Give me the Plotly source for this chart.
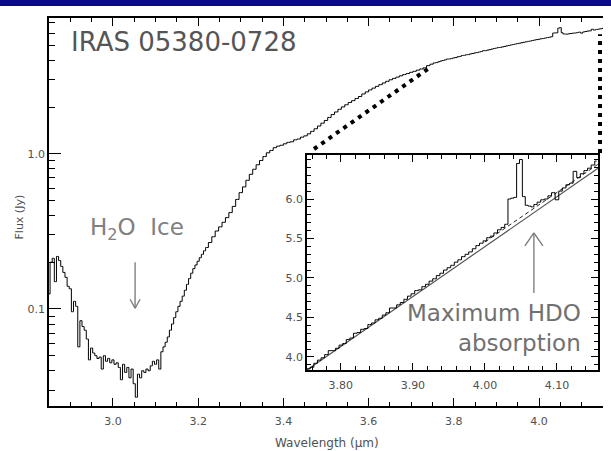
import numpy as np
import plotly.graph_objects as go

# ---------------- data ----------------
wavelength = [
    2.850, 2.855, 2.860, 2.865, 2.870, 2.875, 2.880, 2.885, 2.890, 2.895,
    2.900, 2.905, 2.910, 2.915, 2.920, 2.925, 2.930, 2.935, 2.940, 2.945,
    2.950, 2.955, 2.960, 2.965, 2.970, 2.975, 2.980, 2.985, 2.990, 2.995,
    3.000, 3.005, 3.010, 3.015, 3.020, 3.025, 3.030, 3.035, 3.040, 3.045,
    3.050, 3.055, 3.060, 3.065, 3.070, 3.075, 3.080, 3.085, 3.090, 3.095,
    3.100, 3.105, 3.110, 3.115, 3.120, 3.125, 3.130, 3.135, 3.140, 3.145,
    3.150, 3.155, 3.160, 3.165, 3.170, 3.175, 3.180, 3.185, 3.190, 3.195,
    3.200, 3.205, 3.210, 3.215, 3.220, 3.228, 3.236, 3.244, 3.252, 3.260,
    3.268, 3.276, 3.284, 3.292, 3.300, 3.308, 3.316, 3.324, 3.332, 3.340,
    3.348, 3.356, 3.364, 3.372, 3.380, 3.388, 3.396, 3.404, 3.412, 3.420,
    3.428, 3.436, 3.444, 3.452, 3.460, 3.468, 3.476, 3.484, 3.492, 3.500,
    3.508, 3.516, 3.524, 3.532, 3.540, 3.548, 3.556, 3.564, 3.572, 3.580,
    3.588, 3.596, 3.604, 3.612, 3.620, 3.628, 3.636, 3.644, 3.652, 3.660,
    3.668, 3.676, 3.684, 3.692, 3.700, 3.708, 3.716, 3.724, 3.732, 3.740,
    3.748,
    3.755, 3.760, 3.765, 3.770, 3.775, 3.780, 3.785, 3.790, 3.795, 3.800,
    3.805, 3.810, 3.815, 3.820, 3.825, 3.830, 3.835, 3.840, 3.845, 3.850,
    3.855, 3.860, 3.865, 3.870, 3.875, 3.880, 3.885, 3.890, 3.895, 3.900,
    3.905, 3.910, 3.915, 3.920, 3.925, 3.930, 3.935, 3.940, 3.945, 3.950,
    3.955, 3.960, 3.965, 3.970, 3.975, 3.980, 3.985, 3.990, 3.995, 4.000,
    4.005, 4.010, 4.015, 4.020, 4.025, 4.030, 4.034, 4.038, 4.042, 4.046,
    4.050, 4.054, 4.058, 4.062, 4.066, 4.070, 4.075, 4.080, 4.085, 4.090,
    4.095, 4.100, 4.105, 4.110, 4.115, 4.120, 4.125, 4.130, 4.135, 4.140,
    4.145, 4.150, 4.155,
]
flux = [
    0.125, 0.200, 0.212, 0.150, 0.218, 0.205, 0.188, 0.172, 0.160, 0.140,
    0.135, 0.096, 0.112, 0.104, 0.057, 0.084, 0.077, 0.073, 0.064, 0.047,
    0.056, 0.052, 0.050, 0.048, 0.049, 0.041, 0.050, 0.046, 0.048, 0.045,
    0.047, 0.044, 0.045, 0.042, 0.035, 0.044, 0.039, 0.042, 0.036, 0.041,
    0.033, 0.027, 0.038, 0.036, 0.040, 0.039, 0.041, 0.040, 0.043, 0.046,
    0.044, 0.047, 0.041, 0.053, 0.057, 0.061, 0.066, 0.073, 0.080, 0.088,
    0.096, 0.104, 0.112, 0.121, 0.132, 0.144, 0.157, 0.170, 0.182, 0.192,
    0.203, 0.214, 0.225, 0.237, 0.249, 0.268, 0.292, 0.318, 0.338, 0.362,
    0.388, 0.418, 0.458, 0.508, 0.562, 0.612, 0.675, 0.738, 0.795, 0.850,
    0.905, 0.960, 1.015, 1.050, 1.095, 1.120, 1.135, 1.160, 1.185, 1.195,
    1.230, 1.245, 1.280, 1.305, 1.345, 1.395, 1.450, 1.510, 1.575, 1.640,
    1.715, 1.790, 1.860, 1.935, 2.005, 2.070, 2.140, 2.200, 2.270, 2.340,
    2.430, 2.505, 2.580, 2.650, 2.720, 2.790, 2.860, 2.930, 3.000, 3.060,
    3.120, 3.180, 3.240, 3.290, 3.350, 3.400, 3.460, 3.520, 3.580, 3.700,
    3.780,
    3.85, 3.87, 3.92, 3.96, 3.99, 4.03, 4.08, 4.08, 4.11, 4.15,
    4.17, 4.22, 4.24, 4.30, 4.31, 4.35, 4.36, 4.41, 4.43, 4.47,
    4.49, 4.53, 4.56, 4.62, 4.62, 4.66, 4.69, 4.73, 4.77, 4.80,
    4.84, 4.85, 4.89, 4.92, 4.96, 4.99, 5.03, 5.06, 5.10, 5.13,
    5.16, 5.20, 5.23, 5.27, 5.30, 5.33, 5.37, 5.41, 5.44, 5.47,
    5.51, 5.53, 5.57, 5.61, 5.64, 5.68, 6.00, 6.01, 6.02, 6.45,
    6.50, 6.03, 5.92, 5.91, 5.90, 5.93, 5.96, 5.99, 6.00, 6.04,
    6.08, 5.99, 6.10, 6.14, 6.18, 6.20, 6.35, 6.27, 6.32, 6.36,
    6.39, 6.43, 6.48,
]

# continuum fits shown in the inset
continuum_wl = [3.753, 4.157]
continuum_flux = [3.835, 6.39]
local_cont_wl = [4.000, 4.157]
local_cont_flux = [5.455, 6.44]

# axis settings
main_xrange = [2.85, 4.15]
main_yrange = [0.0237, 7.5]
main_yticks = [0.1, 1.0]
main_yticktext = ["0.1", "1.0"]
main_yminor = [0.03, 0.04, 0.05, 0.06, 0.07, 0.08, 0.09,
               0.2, 0.3, 0.4, 0.5, 0.6, 0.7, 0.8, 0.9,
               2, 3, 4, 5, 6, 7]
inset_xrange = [3.753, 4.157]
inset_yrange = [3.835, 6.557]
inset_yticks = [4.0, 4.5, 5.0, 5.5, 6.0]

# ---------------- geometry ----------------
W, H = 611, 451
ML, MR, MT, MB = 49, 8, 18, 45
PW, PH = W - ML - MR, H - MT - MB

inset_px = (307, 598, 155, 370)  # left, right, top, bottom (pixels)
inset_dom_x = [(inset_px[0] - ML) / PW, (inset_px[1] - ML) / PW]
inset_dom_y = [(H - MB - inset_px[3]) / PH, (H - MB - inset_px[2]) / PH]

ly0, ly1 = np.log10(main_yrange[0]), np.log10(main_yrange[1])


def paper_x(w):
    return (w - main_xrange[0]) / (main_xrange[1] - main_xrange[0])


def paper_y(f):
    return (np.log10(f) - ly0) / (ly1 - ly0)


def px_to_paper(px, py):
    return (px - ML) / PW, (H - MB - py) / PH


def main_to_px(w, f):
    return ML + paper_x(w) * PW, MT + (1 - paper_y(f)) * PH


def inset_to_px(w, f):
    fx = (w - inset_xrange[0]) / (inset_xrange[1] - inset_xrange[0])
    fy = (f - inset_yrange[0]) / (inset_yrange[1] - inset_yrange[0])
    return (inset_px[0] + fx * (inset_px[1] - inset_px[0]),
            inset_px[3] - fy * (inset_px[3] - inset_px[2]))


FONT = "DejaVu Sans"
TICKC = "#505050"

fig = go.Figure()
fig.add_trace(go.Scatter(x=wavelength, y=flux, mode="lines",
                         line=dict(color="black", width=1, shape="hvh"),
                         xaxis="x", yaxis="y", showlegend=False,
                         hoverinfo="skip"))
fig.add_trace(go.Scatter(x=continuum_wl, y=continuum_flux, mode="lines",
                         line=dict(color="#555", width=1.2),
                         xaxis="x2", yaxis="y2", showlegend=False,
                         hoverinfo="skip"))
fig.add_trace(go.Scatter(x=local_cont_wl, y=local_cont_flux, mode="lines",
                         line=dict(color="#222", width=1, dash="4px,3px"),
                         xaxis="x2", yaxis="y2", showlegend=False,
                         hoverinfo="skip"))
fig.add_trace(go.Scatter(x=wavelength, y=flux, mode="lines",
                         line=dict(color="black", width=1, shape="hvh"),
                         xaxis="x2", yaxis="y2", showlegend=False,
                         hoverinfo="skip"))

axis_common = dict(showline=True, linecolor="black", linewidth=1.5,
                   showgrid=False, zeroline=False, ticks="inside",
                   tickcolor="black", tickwidth=1,
                   tickfont=dict(family=FONT, size=11, color=TICKC))

fig.update_layout(
    width=W, height=H, autosize=False,
    margin=dict(l=ML, r=MR, t=MT, b=MB),
    paper_bgcolor="white", plot_bgcolor="white",
    font=dict(family=FONT),
    xaxis=dict(domain=[0, 1], range=main_xrange, mirror="allticks",
               tick0=3.0, dtick=0.2, tickformat=".1f", ticklen=8,
               ticklabelstandoff=4,
               minor=dict(ticks="inside", dtick=0.05, ticklen=4,
                          tickcolor="black", tickwidth=1),
               anchor="y", **axis_common),
    yaxis=dict(domain=[0, 1], type="log", range=[ly0, ly1], mirror=False,
               tickmode="array", tickvals=main_yticks,
               ticktext=main_yticktext, ticklen=12,
               minor=dict(ticks="inside", tickmode="array",
                          tickvals=main_yminor, ticklen=6,
                          tickcolor="black", tickwidth=1),
               anchor="x", **axis_common),
    xaxis2=dict(domain=inset_dom_x, range=inset_xrange, mirror="allticks",
                tick0=3.8, dtick=0.1, tickformat=".2f", ticklen=7,
                ticklabelstandoff=4,
                minor=dict(ticks="inside", dtick=0.02, ticklen=4,
                           tickcolor="black", tickwidth=1),
                anchor="y2", **axis_common),
    yaxis2=dict(domain=inset_dom_y, range=inset_yrange, mirror="allticks",
                tickmode="array", tickvals=inset_yticks,
                tickformat=".1f", ticklen=7,
                minor=dict(ticks="inside", tick0=4.0, dtick=0.1, ticklen=4,
                           tickcolor="black", tickwidth=1),
                anchor="x2", **axis_common),
)

# blue band at the top of the slide
fig.add_shape(type="rect", xref="paper", yref="paper",
              x0=-ML / PW - 0.01, x1=1 + MR / PW + 0.01,
              y0=1 + (MT - 6) / PH, y1=1 + MT / PH + 0.01,
              fillcolor="#0b0b8a", line=dict(width=0), layer="above")

# dotted connectors from the inset to the main spectrum
i_left = int(np.argmin(np.abs(np.array(wavelength) - (inset_xrange[0] - 0.012))))
i_right = int(np.argmin(np.abs(np.array(wavelength) - main_xrange[1])))
dot = dict(color="black", width=4, dash="4px,5px")
fig.add_shape(type="line", xref="paper", yref="paper",
              x0=inset_dom_x[0] + 7 / PW, y0=inset_dom_y[1] + 6 / PH,
              x1=paper_x(wavelength[i_left]), y1=paper_y(flux[i_left]) - 3 / PH,
              line=dot)
fig.add_shape(type="line", xref="paper", yref="paper",
              x0=inset_dom_x[1] + 2 / PW, y0=inset_dom_y[1] + 2 / PH,
              x1=inset_dom_x[1] + 2 / PW, y1=paper_y(flux[i_right]) - 6 / PH,
              line=dot)


def add_arrow(tip, length, direction, wing_w, wing_h, color="#777", width=1.3):
    """Arrow drawn as open V; tip in pixels, direction +1 = pointing down."""
    tx, ty = tip
    tail = (tx, ty - direction * length)
    segs = [(tail, tip),
            ((tx - wing_w, ty - direction * wing_h), tip),
            ((tx + wing_w, ty - direction * wing_h), tip)]
    for a, b in segs:
        x0, y0 = px_to_paper(*a)
        x1, y1 = px_to_paper(*b)
        fig.add_shape(type="line", xref="paper", yref="paper",
                      x0=x0, y0=y0, x1=x1, y1=y1,
                      line=dict(color=color, width=width))


# H2O ice arrow (main axes) and HDO arrow (inset axes)
add_arrow(main_to_px(3.052, 0.101), 46, +1, 5, 9)
add_arrow(inset_to_px(4.068, 5.57), 60, -1, 9, 13)

# texts
fig.add_annotation(text="IRAS 05380-0728", xref="paper", yref="paper",
                   x=(69 - ML) / PW, y=(H - MB - 42) / PH,
                   xanchor="left", yanchor="middle", showarrow=False,
                   font=dict(family=FONT, size=26, color="#555"))
fig.add_annotation(text="H<sub>2</sub>O  Ice", xref="paper", yref="paper",
                   x=(88 - ML) / PW, y=(H - MB - 229) / PH,
                   xanchor="left", yanchor="middle", showarrow=False,
                   font=dict(family=FONT, size=23, color="#808080"))
fig.add_annotation(text="Maximum HDO<br>absorption", xref="paper", yref="paper",
                   x=(583 - ML) / PW, y=(H - MB - 298) / PH,
                   xanchor="right", yanchor="top", align="right",
                   showarrow=False,
                   font=dict(family=FONT, size=23, color="#707070"))
fig.add_annotation(text="Flux (Jy)", xref="paper", yref="paper",
                   x=0, xshift=-38, y=(H - MB - 217) / PH,
                   textangle=-90, showarrow=False,
                   font=dict(family=FONT, size=11, color=TICKC))
fig.add_annotation(text="Wavelength (µm)", xref="paper", yref="paper",
                   x=(327 - ML) / PW, y=-(443 - (H - MB)) / PH,
                   yanchor="middle", showarrow=False,
                   font=dict(family=FONT, size=12, color=TICKC))

fig.write_html("out.html")
